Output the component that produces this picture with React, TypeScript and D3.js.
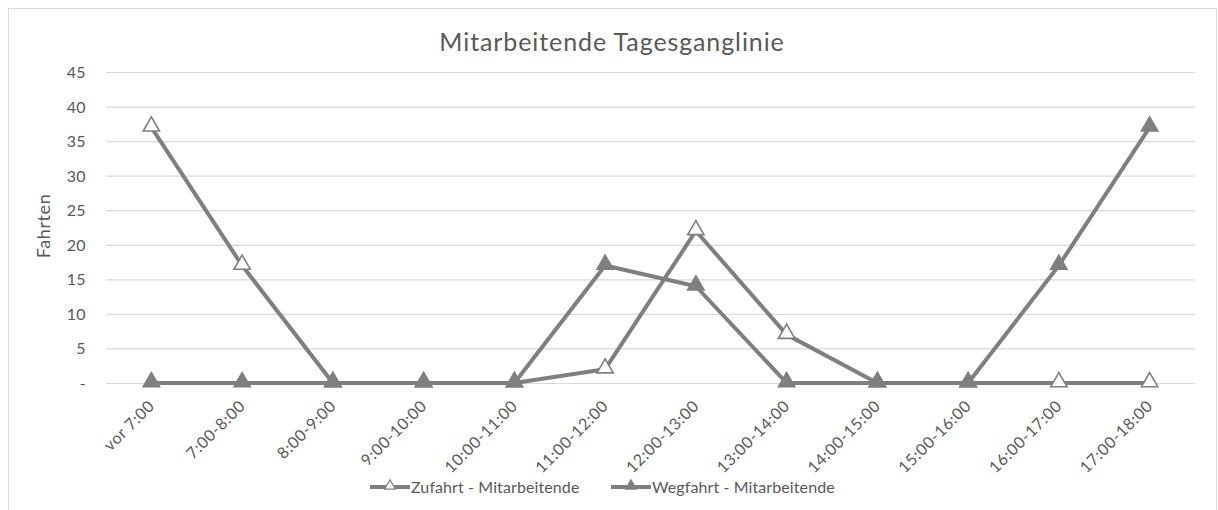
import React from "react";
import * as d3 from "d3";

const categories = ["vor 7:00", "7:00-8:00", "8:00-9:00", "9:00-10:00", "10:00-11:00", "11:00-12:00", "12:00-13:00", "13:00-14:00", "14:00-15:00", "15:00-16:00", "16:00-17:00", "17:00-18:00"];
const zufahrt = [37, 17, 0, 0, 0, 2, 22, 7, 0, 0, 0, 0];
const wegfahrt = [0, 0, 0, 0, 0, 17, 14, 0, 0, 0, 17, 37];
const yTicks = [0, 5, 10, 15, 20, 25, 30, 35, 40, 45];
const seriesNames = ["Zufahrt - Mitarbeitende", "Wegfahrt - Mitarbeitende"];
const title = "Mitarbeitende Tagesganglinie";
const yTitle = "Fahrten";

const W = 1218, H = 510;
const left = 106, right = 1195, top = 72, bottom = 383;
const lineColor = "#7f7f7f";
const textColor = "#595959";
const font = "Lato, 'Liberation Sans', Arial, sans-serif";

export default function App() {
  const x = d3.scaleBand<string>().domain(categories).range([left, right]);
  const y = d3.scaleLinear().domain([0, 45]).range([bottom, top]);
  const cx = (c: string) => (x(c) as number) + x.bandwidth() / 2;
  const line = d3.line<number>().x((_, i) => cx(categories[i])).y((d) => y(d));
  const tri = d3.symbol().type(d3.symbolTriangle).size(115)() as string;
  const triSmall = d3.symbol().type(d3.symbolTriangle).size(50)() as string;

  const series = [
    { name: seriesNames[0], data: zufahrt, fill: "#ffffff" },
    { name: seriesNames[1], data: wegfahrt, fill: lineColor },
  ];
  const legendX = [370, 611];

  return (
    <svg width={W} height={H} style={{ position: "absolute", left: 0, top: 0 }}>
      <rect x={0} y={0} width={W} height={H} fill="#fff" />
      <rect x={8.5} y={8.5} width={1208} height={520} fill="#fff" stroke="#d9d9d9" />
      <text x={612} y={51} textAnchor="middle" fontFamily={font} fontSize={25} letterSpacing={0.9} fill={textColor}>{title}</text>
      {yTicks.map((t) => (
        <g key={t}>
          <line x1={left} x2={right} y1={y(t) + 0.5} y2={y(t) + 0.5} stroke="#d9d9d9" strokeWidth={1.2} />
          <text x={86} y={y(t) + 6} textAnchor="end" fontFamily={font} fontSize={16} letterSpacing={0.4} fill={textColor}>{t === 0 ? "-" : t}</text>
        </g>
      ))}
      <text transform={`translate(50,${226}) rotate(-90)`} textAnchor="middle" fontFamily={font} fontSize={18} letterSpacing={0.6} fill={textColor}>{yTitle}</text>
      {categories.map((c) => (
        <text key={c} transform={`translate(${cx(c) + 4},${bottom + 24}) rotate(-45)`} textAnchor="end" fontFamily={font} fontSize={16} letterSpacing={0.6} fill={textColor}>{c}</text>
      ))}
      {series.map((s) => (
        <g key={s.name}>
          <path d={line(s.data) as string} fill="none" stroke={lineColor} strokeWidth={4} strokeLinejoin="round" />
          {s.data.map((v, i) => (
            <path key={i} d={tri} transform={`translate(${cx(categories[i])},${y(v) - 1})`} fill={s.fill} stroke={lineColor} strokeWidth={1.6} />
          ))}
        </g>
      ))}
      {series.map((s, k) => (
        <g key={s.name}>
          <line x1={legendX[k]} x2={legendX[k] + 40} y1={487} y2={487} stroke={lineColor} strokeWidth={4} />
          <path d={triSmall} transform={`translate(${legendX[k] + 20},486)`} fill={s.fill} stroke={lineColor} strokeWidth={1.2} />
          <text x={legendX[k] + 41} y={493} fontFamily={font} fontSize={16} letterSpacing={0.1} fill={textColor}>{s.name}</text>
        </g>
      ))}
    </svg>
  );
}
